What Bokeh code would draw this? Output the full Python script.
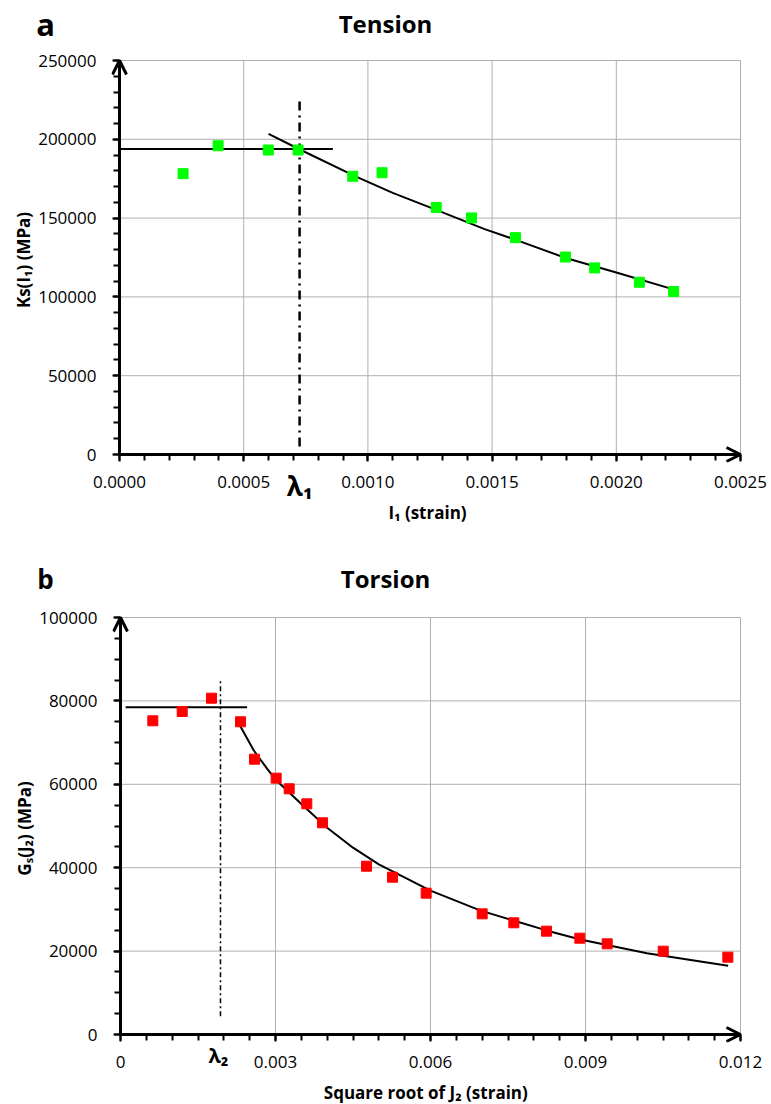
from bokeh.plotting import figure
from bokeh.layouts import column
from bokeh.models import (Label, Arrow, OpenHead, SingleIntervalTicker, NumeralTickFormatter,
                          LinearAxis)
from bokeh.embed import file_html
from bokeh.resources import INLINE

# ---------------- data: Tension ----------------
t_x = [0.000256, 0.000397, 0.000599, 0.000719, 0.000939, 0.001057, 0.001275,
       0.001417, 0.001594, 0.001795, 0.001913, 0.002093, 0.002231]
t_y = [178200, 195900, 193200, 193200, 176500, 178800, 156700,
       150100, 137600, 125300, 118400, 109300, 103400]
t_plateau_x = [0.0, 0.000859]
t_plateau_y = [193800, 193800]
t_fit_x = [0.00060, 0.00072, 0.00095, 0.00110, 0.00127, 0.00147, 0.00159,
           0.00180, 0.00200, 0.00223]
t_fit_y = [203500, 194000, 176500, 166000, 155500, 143000, 136500,
           124500, 115500, 104800]
lambda1 = 0.000725
lambda1_span = [5000, 227000]
t_xticks = [0.0005, 0.0010, 0.0015, 0.0020, 0.0025]
t_yticks = [50000, 100000, 150000, 200000, 250000]

# ---------------- data: Torsion ----------------
s_x = [0.000626, 0.001194, 0.001761, 0.002323, 0.002594, 0.003013, 0.003265,
       0.003606, 0.003910, 0.004761, 0.005265, 0.005916, 0.007000, 0.007613,
       0.008245, 0.008890, 0.009420, 0.010504, 0.011755]
s_y = [75230, 77460, 80650, 74990, 66020, 61470, 58920,
       55320, 50770, 40360, 37720, 33890, 28940, 26790,
       24780, 23100, 21740, 19980, 18540]
s_plateau_x = [0.0001, 0.00245]
s_plateau_y = [78500, 78500]
s_fit_x = [0.00232, 0.00258, 0.00284, 0.00302, 0.00348, 0.00400, 0.00450,
           0.00500, 0.00600, 0.00697, 0.00826, 0.00890, 0.01019, 0.01176]
s_fit_y = [73900, 68100, 63700, 60900, 55500, 49600, 44800,
           40800, 34500, 29700, 24900, 22800, 19500, 16500]
lambda2 = 0.001935
lambda2_span = [4400, 84900]
s_xticks = [0.003, 0.006, 0.009, 0.012]
s_yticks = [20000, 40000, 60000, 80000, 100000]

FONT = "Open Sans"
GRID = "#b0b0b0"
PL, PB, PT, PR = 8, 8, 3, 3   # extra frame (px) around the axes so arrow heads are not clipped
W = 771


def no_align(p):
    if "frame_align" in p.properties():
        p.frame_align = False


def make_fig(xmax, ymax, fw, fh, left, top, bottom):
    dxl, dxr = PL * xmax / fw, PR * xmax / fw
    dyb, dyt = PB * ymax / fh, PT * ymax / fh
    fwidth = fw + PL + PR
    p = figure(frame_width=fwidth, frame_height=fh + PB + PT,
               x_range=(-dxl, xmax + dxr), y_range=(-dyb, ymax + dyt),
               output_backend="svg", toolbar_location=None,
               min_border_left=left - PL, min_border_right=W - (left - PL) - fwidth,
               min_border_top=top, min_border_bottom=bottom)
    no_align(p)
    p.grid.visible = False
    p.outline_line_color = None
    p.background_fill_color = "white"
    p.border_fill_color = "white"
    return p


def style_axes(p, xmax, ymax, xint, xminor, yint, yminor, xfmt, xlabel, ylabel, overrides=None):
    # axis lines + ticks, drawn at x=0 / y=0
    p.xaxis.ticker = SingleIntervalTicker(interval=xint, num_minor_ticks=xminor)
    p.yaxis.ticker = SingleIntervalTicker(interval=yint, num_minor_ticks=yminor)
    p.xaxis.fixed_location = 0
    p.yaxis.fixed_location = 0
    p.xaxis.bounds = (0, xmax)
    p.yaxis.bounds = (0, ymax)
    for ax in (p.xaxis, p.yaxis):
        ax.axis_line_color = "black"
        ax.axis_line_width = 3
        ax.major_tick_line_color = "black"
        ax.major_tick_line_width = 2
        ax.minor_tick_line_color = "black"
        ax.minor_tick_line_width = 2
        ax.major_tick_in = 0
        ax.major_tick_out = 7
        ax.minor_tick_in = 0
        ax.minor_tick_out = 6
        ax.major_label_text_alpha = 0
        ax.major_label_text_color = None
    # tick labels + titles
    xl = LinearAxis(ticker=SingleIntervalTicker(interval=xint, num_minor_ticks=0),
                    formatter=NumeralTickFormatter(format=xfmt), axis_label=xlabel)
    yl = LinearAxis(ticker=SingleIntervalTicker(interval=yint, num_minor_ticks=0),
                    formatter=NumeralTickFormatter(format="0"), axis_label=ylabel)
    if overrides:
        xl.major_label_overrides = overrides
    for ax in (xl, yl):
        ax.axis_line_color = None
        ax.major_tick_line_color = None
        ax.minor_tick_line_color = None
        ax.major_tick_in = 0
        ax.major_tick_out = 0
        ax.minor_tick_in = 0
        ax.minor_tick_out = 0
        ax.major_label_text_font = FONT
        ax.major_label_text_font_size = "17px"
        ax.major_label_text_color = "black"
        ax.axis_label_text_font = FONT
        ax.axis_label_text_font_size = "17px"
        ax.axis_label_text_font_style = "bold"
        ax.axis_label_text_color = "black"
    xl.major_label_standoff = 13
    xl.axis_label_standoff = 10
    yl.major_label_standoff = 15
    yl.axis_label_standoff = 0
    p.add_layout(xl, "below")
    p.add_layout(yl, "left")


def grid_lines(p, xt, yt, xmax, ymax):
    p.segment(x0=xt, y0=[0] * len(xt), x1=xt, y1=[ymax] * len(xt),
              line_color=GRID, line_width=1, level="underlay")
    p.segment(x0=[0] * len(yt), y0=yt, x1=[xmax] * len(yt), y1=yt,
              line_color=GRID, line_width=1, level="underlay")


def add_arrows(p, xmax, ymax):
    p.add_layout(Arrow(end=OpenHead(size=14, line_width=3, line_color="black"),
                       x_start=xmax * 0.95, y_start=0, x_end=xmax, y_end=0,
                       line_width=3, line_color="black"))
    p.add_layout(Arrow(end=OpenHead(size=14, line_width=3, line_color="black"),
                       x_start=0, y_start=ymax * 0.95, x_end=0, y_end=ymax,
                       line_width=3, line_color="black"))


def label(x, y, s, size, x_offset=0):
    return Label(x=x, y=y, x_offset=x_offset, text=s, text_align="center",
                 text_baseline="alphabetic", text_font=FONT, text_font_size=size,
                 text_font_style="bold", text_color="black")


def header(height, items):
    h = figure(width=W, height=height, x_range=(0, W), y_range=(height, 0),
               x_axis_type=None, y_axis_type=None, output_backend="svg",
               toolbar_location=None, min_border=0)
    no_align(h)
    h.outline_line_color = None
    h.grid.visible = False
    for (x, y, s, size) in items:
        h.add_layout(label(x, y, s, size))
    return h


# ---------------- header a ----------------
h1 = header(45, [(45, 23, "a", "31px"), (385, 23, "Tension", "24px")])

# ---------------- Figure a : Tension ----------------
X1, Y1 = 0.0025, 250000
p1 = make_fig(X1, Y1, 621, 394, left=119, top=12, bottom=64)
style_axes(p1, X1, Y1, 0.0005, 5, 50000, 5, "0.0000", "I₁ (strain)", "Ks(I₁) (MPa)")
grid_lines(p1, t_xticks, t_yticks, X1, Y1)

p1.line(t_plateau_x, t_plateau_y, line_color="black", line_width=2)
p1.line([lambda1, lambda1], lambda1_span, line_color="black", line_width=2.5,
        line_dash="9 5 2 5")
p1.line(t_fit_x, t_fit_y, line_color="black", line_width=2)
p1.scatter(t_x, t_y, marker="square", size=10, fill_color="#00ff00", line_color="#00ff00")
add_arrows(p1, X1, Y1)
p1.add_layout(label(lambda1, -20300, "λ₁", "26px"), "right")

# ---------------- header b ----------------
h2 = header(76, [(45, 52, "b", "26px"), (385, 52, "Torsion", "24px")])

# ---------------- Figure b : Torsion ----------------
X2, Y2 = 0.012, 100000
p2 = make_fig(X2, Y2, 620, 417, left=120, top=12, bottom=62)
style_axes(p2, X2, Y2, 0.003, 6, 20000, 4, "0.000", "Square  root of J₂ (strain)",
           "Gₛ(J₂) (MPa)", overrides={0: "0"})
grid_lines(p2, s_xticks, s_yticks, X2, Y2)

p2.line(s_plateau_x, s_plateau_y, line_color="black", line_width=2)
p2.line([lambda2, lambda2], lambda2_span, line_color="black", line_width=1.5,
        line_dash="5 3 2 3")
p2.line(s_fit_x, s_fit_y, line_color="black", line_width=2)
p2.scatter(s_x, s_y, marker="square", size=10, fill_color="#ff0000", line_color="#ff0000")
add_arrows(p2, X2, Y2)
p2.add_layout(label(lambda2, -5030, "λ₂", "20px", x_offset=-2), "right")

layout = column(h1, p1, h2, p2, spacing=0)
open("out.html", "w").write(file_html(layout, INLINE))
